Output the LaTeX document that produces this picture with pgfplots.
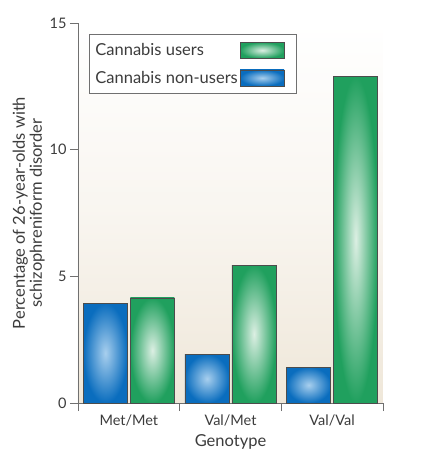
\documentclass[border=0pt]{standalone}
\usepackage{pgfplots}
\pgfplotsset{compat=1.18}
\usepackage{fontspec}
\setmainfont{Lato}
\definecolor{blueD}{HTML}{0A6DBE}
\definecolor{blueL}{HTML}{A8CFEE}
\definecolor{greenD}{HTML}{20A05E}
\definecolor{greenL}{HTML}{DCEFE3}
\definecolor{beige}{HTML}{EFE7D9}
\definecolor{txt}{HTML}{3C3C3C}
\definecolor{axl}{HTML}{707070}
\pgfplotsset{
  gbar/.style={ybar, bar width=44pt, bar shift=23.5pt, draw=black!70, line width=0.7pt, inner color=greenL, outer color=greenD, forget plot},
  bbar/.style={ybar, bar width=44pt, bar shift=-23.5pt, draw=black!70, line width=0.7pt, inner color=blueL, outer color=blueD, forget plot},
}
\begin{document}
\begin{tikzpicture}
\path[use as bounding box] (-78pt,-66pt) rectangle (347pt,403pt);
\begin{axis}[
  at={(0,0)}, anchor=south west,
  scale only axis, width=305pt, height=380pt,
  xmin=-0.5, xmax=2.5, ymin=0, ymax=15,
  axis x line*=bottom, axis y line*=left,
  axis line style={draw=axl, line width=0.8pt},
  tick align=outside,
  major tick length=8pt, minor tick length=8pt,
  ytick={0,5,10,15},
  xtick={0,1,2}, xticklabels={Met/Met,Val/Met,Val/Val},
  minor xtick={-0.5,0.5,1.5,2.5},
  major x tick style={draw=none},
  minor x tick style={draw=axl, line width=0.8pt},
  y tick style={draw=axl, line width=0.8pt},
  tick label style={font=\fontsize{14.5}{16}\selectfont, text=txt},
  /pgf/number format/assume math mode=true,
  xlabel={Genotype},
  xlabel style={font=\fontsize{16.5}{19}\selectfont, text=txt, yshift=-2pt},
  ylabel={Percentage of 26-year-olds with\\schizophreniform disorder},
  ylabel style={font=\fontsize{16.5}{17}\selectfont, text=txt, align=center, yshift=-2pt},
  axis background/.style={top color=white, bottom color=beige, middle color=white!60!beige},
  legend plot pos=right,
  legend cell align=left,
  legend style={at={(11pt,369pt)}, anchor=north west, draw=axl, line width=0.8pt,
    font=\fontsize{16.5}{19}\selectfont, text=txt, inner xsep=4pt, inner ysep=7pt,
    row sep=10pt},
]
\addlegendimage{legend image code/.code={\path[draw=black!70, line width=0.7pt, inner color=greenL, outer color=greenD] (0pt,-8pt) rectangle (44pt,8pt); \node[inner sep=0pt, minimum width=52pt, minimum height=1pt, anchor=west] at (0pt,0pt) {};}}
\addlegendentry{Cannabis users}
\addlegendimage{legend image code/.code={\path[draw=black!70, line width=0.7pt, inner color=blueL, outer color=blueD] (0pt,-8pt) rectangle (44pt,8pt); \node[inner sep=0pt, minimum width=52pt, minimum height=1pt, anchor=west] at (0pt,0pt) {};}}
\addlegendentry{Cannabis non-users}
\addplot[bbar] coordinates {(0,3.94)};
\addplot[bbar] coordinates {(1,1.92)};
\addplot[bbar] coordinates {(2,1.42)};
\addplot[gbar] coordinates {(0,4.15)};
\addplot[gbar] coordinates {(1,5.44)};
\addplot[gbar] coordinates {(2,12.9)};
\end{axis}
\end{tikzpicture}
\end{document}
